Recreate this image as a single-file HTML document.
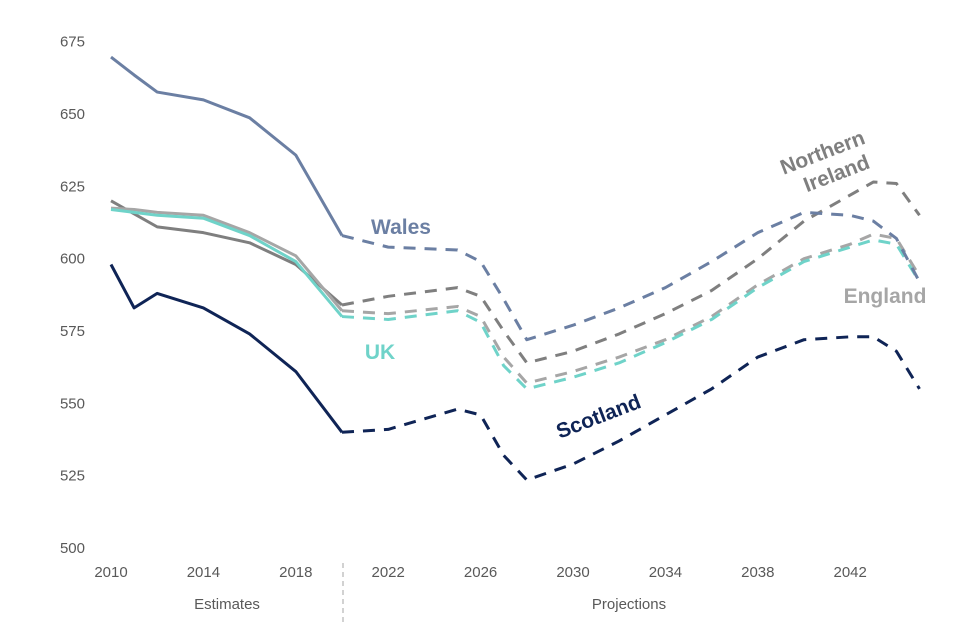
<!DOCTYPE html>
<html><head><meta charset="utf-8"><style>
body{margin:0;background:#fff}
svg{display:block;font-family:"Liberation Sans",Arial,sans-serif}
</style></head><body>
<svg id="chart" width="960" height="640"></svg>
<script>
const years=[2010,2011,2012,2014,2016,2018,2020,2022,2025,2026,2027,2028,2030,2032,2034,2036,2038,2040,2042,2043,2044,2045];
const wales=[669.7,663.5,657.6,654.9,648.7,635.8,608,604,603,599,586,572,577,583,590,599,609,616,615,613,607,592];
const northernIreland=[620,615.5,611,609,605.5,598,584,587,590,587,575,564,568,574,581,589,600,613,622,626.5,626,615];
const england=[617.5,617,616,615,609,601,582,581,583.5,580,566,557,561,566,572,580,591,600,605,608.5,607,594];
const uk=[617,616,615,614,608,599,580,579,582,578,563,555,559,564,571,579,590,599,604,606.5,605,592];
const scotland=[598,583,588,583,574,561,540,541,548,546,532,523.5,529,537,546,555,566,572,573,573,568,555];
const yTicks=[500,525,550,575,600,625,650,675];
const xTicks=[2010,2014,2018,2022,2026,2030,2034,2038,2042];
const splitYear=2020;
const NS='http://www.w3.org/2000/svg';
const svg=document.getElementById('chart');
const xs=y=>111+(y-2010)*23.1;
const ys=v=>548-(v-500)*2.893;
function el(t,a,p){const e=document.createElementNS(NS,t);for(const k in a)e.setAttribute(k,a[k]);(p||svg).appendChild(e);return e;}
yTicks.forEach(t=>{const e=el('text',{x:85,y:ys(t)+5,'text-anchor':'end','font-size':15,fill:'#595959'});e.textContent=t;

});
xTicks.forEach(t=>{const e=el('text',{x:xs(t),y:577,'text-anchor':'middle','font-size':15,fill:'#595959'});e.textContent=t;

});
const d=el('line',{x1:343,y1:563,x2:343,y2:622,stroke:'#a6a6a6','stroke-width':1,'stroke-dasharray':'5,4'});


[['Estimates',227],['Projections',629]].forEach(([s,x])=>{const e=el('text',{x:x,y:609,'text-anchor':'middle','font-size':15,fill:'#595959'});e.textContent=s;

});
function series(vals,color,name){
  const pts=years.map((y,i)=>[xs(y),ys(vals[i])]);
  const si=years.indexOf(splitYear);
  const sol=pts.slice(0,si+1).map(p=>p.join(',')).join(' ');
  const das=pts.slice(si).map(p=>p.join(',')).join(' ');
  const a=el('polyline',{points:sol,fill:'none',stroke:color,'stroke-width':3,'stroke-linejoin':'round'});
  
  
  const b=el('polyline',{points:das,fill:'none',stroke:color,'stroke-width':3,'stroke-dasharray':'12,9','stroke-linejoin':'round'});
  
  
}
series(northernIreland,'#7f7f7f','northern-ireland');
series(england,'#a6a6a6','england');
series(uk,'#6fd3c9','uk');
series(wales,'#6b7fa3','wales');
series(scotland,'#0f2456','scotland');
function label(txt,x,y,color,rot,name){const e=el('text',{x:x,y:y,'font-size':21,'font-weight':'bold',fill:color,'text-anchor':'middle',transform:rot?`rotate(${rot} ${x} ${y})`:''});
e.textContent=txt;

return e;}
label('Wales',401,234,'#6b7fa3',0,'wales-label');
label('UK',380,359,'#6fd3c9',0,'uk-label');
label('England',885,303,'#a6a6a6',0,'england-label');
label('Scotland',601,423,'#0f2456',-21,'scotland-label');
label('Northern',825,159,'#7f7f7f',-21,'northern-ireland-label-1');
label('Ireland',839,180,'#7f7f7f',-21,'northern-ireland-label-2');
</script>
</body></html>
